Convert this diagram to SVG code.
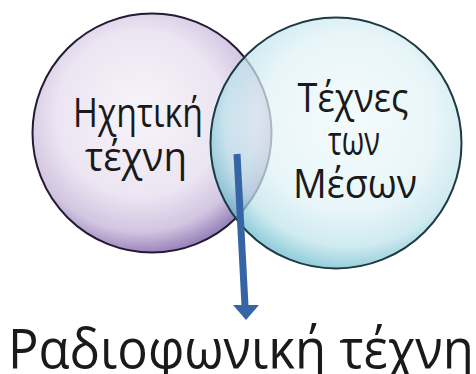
<svg xmlns="http://www.w3.org/2000/svg" width="476" height="374" viewBox="0 0 476 374">
<defs>
<radialGradient id="gL" cx="0.45" cy="0.42" r="0.58">
<stop offset="0" stop-color="#f7f4fa"/>
<stop offset="0.6" stop-color="#ece5f2"/>
<stop offset="0.85" stop-color="#d2c5e1"/>
<stop offset="1" stop-color="#9c87bd"/>
</radialGradient>
<radialGradient id="gR" cx="0.55" cy="0.42" r="0.58">
<stop offset="0" stop-color="#f0f9fb"/>
<stop offset="0.6" stop-color="#e0f2f6"/>
<stop offset="0.85" stop-color="#bde3eb"/>
<stop offset="1" stop-color="#70bdcf"/>
</radialGradient>
<style>
.lbl{font-family:"Open Sans","Noto Sans",sans-serif;fill:#1a1a1a;text-anchor:middle}
.m{font-size:41px}
</style>
</defs>
<rect width="476" height="374" fill="#ffffff"/>
<g id="node-sound">
<circle cx="152" cy="133" r="119.5" fill="url(#gL)" stroke="#241a35" stroke-width="2"/>
</g>
<g id="node-media">
<circle cx="336" cy="143" r="125.5" fill="url(#gR)" fill-opacity="0.72" stroke="#1d3a44" stroke-width="2"/>
</g>
<g id="labels">
<text class="lbl m" x="138" y="127" textLength="130" lengthAdjust="spacingAndGlyphs">Ηχητική</text>
<text class="lbl m" x="136" y="171" textLength="102" lengthAdjust="spacingAndGlyphs">τέχνη</text>
<text class="lbl m" x="353" y="112" textLength="111" lengthAdjust="spacingAndGlyphs">Τέχνες</text>
<text class="lbl m" x="354" y="155" textLength="52" lengthAdjust="spacingAndGlyphs">των</text>
<text class="lbl m" x="355" y="198" textLength="124" lengthAdjust="spacingAndGlyphs">Μέσων</text>
</g>
<g id="connectors">
<line x1="237" y1="154" x2="245" y2="306" stroke="#3565a5" stroke-width="7"/>
<polygon points="233,305 259,305 246,320" fill="#3565a5"/>
</g>
<g id="node-radio">
<text class="lbl" x="241" y="368" font-size="55" textLength="466" lengthAdjust="spacingAndGlyphs">Ραδιοφωνική τέχνη</text>
</g>
</svg>
